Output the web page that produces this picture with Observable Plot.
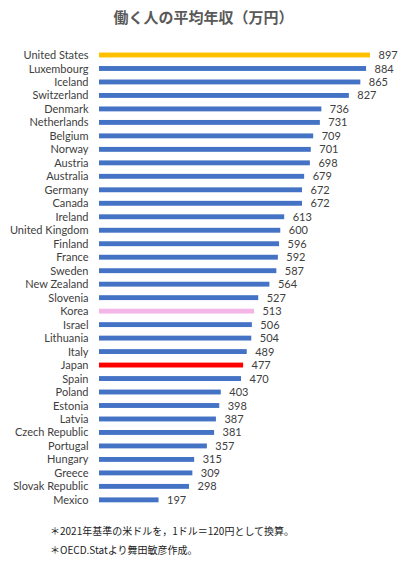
<!DOCTYPE html>
<html><head><meta charset="utf-8">
<script src="https://cdn.jsdelivr.net/npm/d3@7"></script>
<script src="https://cdn.jsdelivr.net/npm/@observablehq/plot@0.6"></script>
<style>
body{margin:0;background:#fff;width:407px;}
#title{height:40px;line-height:34px;text-align:center;font-family:"Noto Sans CJK JP";font-weight:bold;font-size:15px;color:#595959;}
#chart{height:478px;}
.note{font-family:"Noto Sans CJK JP";font-size:10px;color:#222;padding-left:50px;height:19px;line-height:19px;}
#n1{margin-top:3px;}
</style></head>
<body>
<div id="title">働く人の平均年収（万円）</div>
<div id="chart"></div>
<div class="note" id="n1">＊2021年基準の米ドルを，1ドル＝120円として換算。</div>
<div class="note">＊OECD.Statより舞田敏彦作成。</div>
<script>
const countries = ["United States","Luxembourg","Iceland","Switzerland","Denmark","Netherlands","Belgium","Norway","Austria","Australia","Germany","Canada","Ireland","United Kingdom","Finland","France","Sweden","New Zealand","Slovenia","Korea","Israel","Lithuania","Italy","Japan","Spain","Poland","Estonia","Latvia","Czech Republic","Portugal","Hungary","Greece","Slovak Republic","Mexico"];
const values = [897,884,865,827,736,731,709,701,698,679,672,672,613,600,596,592,587,564,527,513,506,504,489,477,470,403,398,387,381,357,315,309,298,197];
const highlight = {"United States":"#FFC000","Korea":"#F4B6E6","Japan":"#FF0000"};
const data = countries.map((c,i)=>({country:c,value:values[i],color:highlight[c]||"#4472C4"}));
const chart = Plot.plot({
  width:407, height:478,
  marginLeft:99, marginRight:37, marginTop:8.26, marginBottom:11.4,
  style:{fontFamily:"Lato", color:"#404040", background:"#fff"},
  x:{domain:[0,897], axis:null},
  y:{domain:countries, padding:0, round:false, axis:null},
  marks:[
    Plot.barX(data,{x:"value", y:"country", fill:"color", insetTop:4.3, insetBottom:4.3}),
    Plot.text(data,{x:0, y:"country", text:"country", textAnchor:"end", dx:-11, fontSize:11, fill:"#404040"}),
    Plot.text(data,{x:"value", y:"country", text:d=>String(d.value), textAnchor:"start", dx:8, fontSize:11, fill:"#404040"})
  ]
});
document.getElementById("chart").appendChild(chart);
</script>
</body></html>
